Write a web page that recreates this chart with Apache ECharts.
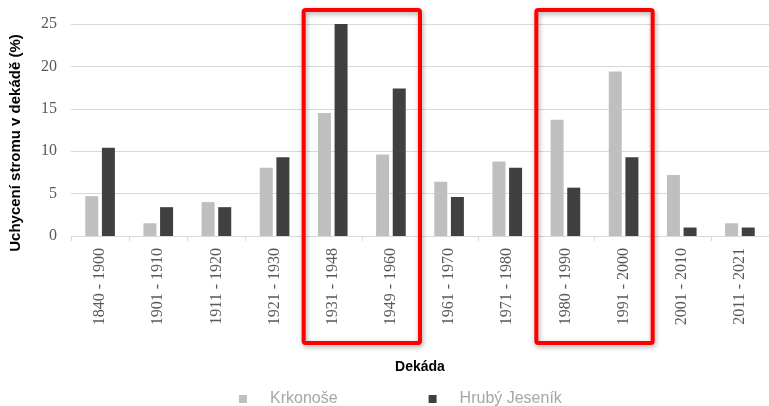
<!DOCTYPE html>
<html><head><meta charset="utf-8">
<script src="https://cdn.jsdelivr.net/npm/echarts@6/dist/echarts.min.js"></script>
<style>html,body{margin:0;padding:0;background:#fff}#c{width:769px;height:406px}</style>
</head><body><div id="c"></div>
<script>
var categories = ['1840 - 1900','1901 - 1910','1911 - 1920','1921 - 1930','1931 - 1948','1949 - 1960','1961 - 1970','1971 - 1980','1980 - 1990','1991 - 2000','2001 - 2010','2011 - 2021'];
var krkonose = [4.7, 1.5, 4.0, 8.05, 14.5, 9.6, 6.4, 8.8, 13.7, 19.4, 7.2, 1.5];
var hrubyJesenik = [10.4, 3.4, 3.4, 9.3, 25.0, 17.4, 4.6, 8.05, 5.7, 9.3, 1.0, 1.0];
var yTicks = {min: 0, max: 25, interval: 5};
var highlightGroups = [[4, 5], [8, 9]];

var chart = echarts.init(document.getElementById('c'), null, {renderer: 'canvas'});
chart.setOption({
  animation: false,
  grid: {left: 70, right: -2, top: 24, bottom: 170, containLabel: false},
  legend: {
    left: 234, bottom: -6, itemWidth: 8, itemHeight: 8, itemGap: 91,
    icon: 'rect',
    textStyle: {color: '#a6a6a6', fontSize: 16, fontFamily: 'Liberation Sans', padding: [0, 0, 0, 18]},
    data: ['Krkonoše', 'Hrubý Jeseník']
  },
  xAxis: {
    type: 'category', data: categories,
    name: 'Dekáda', nameLocation: 'middle', nameGap: 124,
    nameTextStyle: {fontWeight: 'bold', fontSize: 14, color: '#000', fontFamily: 'Liberation Sans'},
    axisLine: {lineStyle: {color: '#d9d9d9'}},
    axisTick: {show: true, length: 5, lineStyle: {color: '#d9d9d9'}},
    axisLabel: {rotate: 90, margin: 12, color: '#595959', fontSize: 16, fontFamily: 'Liberation Serif'}
  },
  yAxis: {
    type: 'value', min: yTicks.min, max: yTicks.max, interval: yTicks.interval,
    name: 'Uchycení stromu v dekádě (%)', nameLocation: 'middle', nameGap: 48,
    nameTextStyle: {fontWeight: 'bold', fontSize: 15, color: '#000', fontFamily: 'Liberation Sans', padding: [0, 26, 0, 0]},
    axisLine: {show: false}, axisTick: {show: false},
    axisLabel: {margin: 14, color: '#595959', fontSize: 16, fontFamily: 'Liberation Serif'},
    splitLine: {lineStyle: {color: '#d9d9d9', width: 1}}
  },
  series: [
    {name: 'Krkonoše', type: 'bar', data: krkonose, barWidth: 13, barGap: '28%', itemStyle: {color: '#bfbfbf'}},
    {name: 'Hrubý Jeseník', type: 'bar', data: hrubyJesenik, barWidth: 13, barGap: '28%', itemStyle: {color: '#404040'}}
  ]
});

var c0 = chart.convertToPixel({xAxisIndex: 0}, 0);
var c1 = chart.convertToPixel({xAxisIndex: 0}, 1);
var band = c1 - c0;
var rects = highlightGroups.map(function (g) {
  var l = chart.convertToPixel({xAxisIndex: 0}, g[0]) - band / 2;
  var r = chart.convertToPixel({xAxisIndex: 0}, g[g.length - 1]) + band / 2;
  return {
    type: 'rect', z: 100,
    shape: {x: l, y: 10, width: r - l, height: 333, r: 2},
    style: {fill: 'none', stroke: '#ff0000', lineWidth: 4, shadowBlur: 5, shadowColor: 'rgba(0,0,0,0.35)', shadowOffsetX: 1, shadowOffsetY: 2}
  };
});
chart.setOption({graphic: rects});
</script></body></html>
